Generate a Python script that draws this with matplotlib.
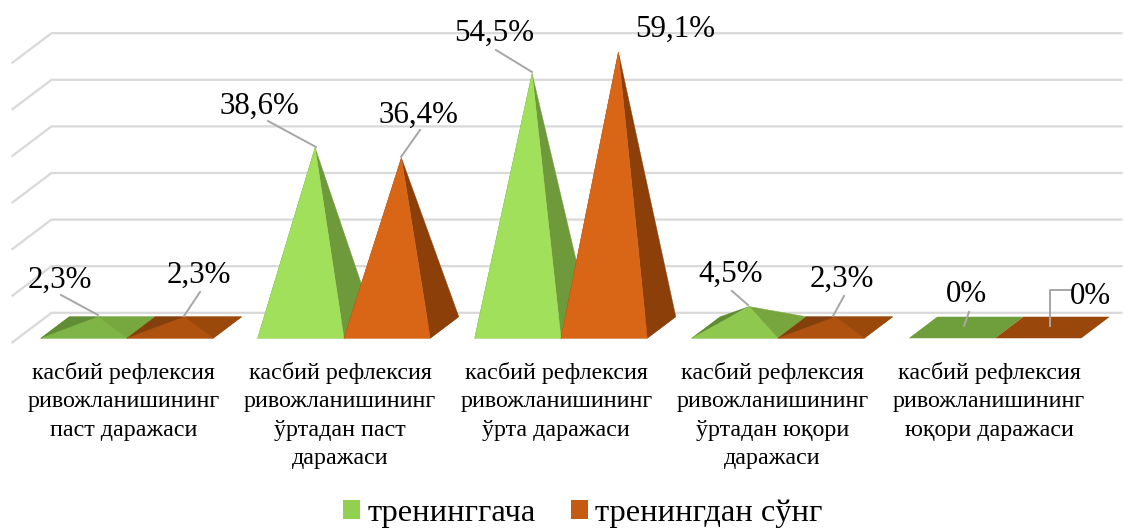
import matplotlib
matplotlib.use("Agg")
import matplotlib.pyplot as plt
from matplotlib.patches import Polygon, Patch
from matplotlib.colors import to_rgb
import numpy as np

plt.rcParams['font.family'] = ['Liberation Serif', 'DejaVu Serif']

categories = [
    "касбий рефлексия\nривожланишининг\nпаст даражаси",
    "касбий рефлексия\nривожланишининг\nўртадан паст\nдаражаси",
    "касбий рефлексия\nривожланишининг\nўрта даражаси",
    "касбий рефлексия\nривожланишининг\nўртадан юқори\nдаражаси",
    "касбий рефлексия\nривожланишининг\nюқори даражаси",
]
before = [2.3, 38.6, 54.5, 4.5, 0]
after = [2.3, 36.4, 59.1, 2.3, 0]
before_labels = ["2,3%", "38,6%", "54,5%", "4,5%", "0%"]
after_labels = ["2,3%", "36,4%", "59,1%", "2,3%", "0%"]
series_names = ["тренинггача", "тренингдан сўнг"]
value_ticks = [0, 10, 20, 30, 40, 50, 60]

W, H = 1124, 529
CAT_PX = 217.0      # pixels per category
VAL_PX = 4.66       # pixels per percent
X0_PX = 141.25      # pixel of category 0 centre
Y0_PX = 327.5       # pixel of value 0
BAR = 86.3 / CAT_PX
DX, DY = 14.25 / CAT_PX, 10.75 / VAL_PX     # half depth of a pyramid
WX, WY = 19.5 / CAT_PX, 14.7 / VAL_PX       # half depth of the floor

PAL = {
    0: dict(floor="#6F9E3C", front="#A0E05A", right="#6F9A3C", left="#5F8C34", low_right="#78A83F", legend="#92D050"),
    1: dict(floor="#9A470B", front="#D96516", right="#8C3F09", left="#84400C", low_right="#9C4A0A", legend="#C55A11"),
}


def mix(a, b, t):
    a, b = np.array(to_rgb(a)), np.array(to_rgb(b))
    return tuple(a + (b - a) * t)


fig = plt.figure(figsize=(W / 100, H / 100), dpi=100)
ax = fig.add_axes([0, 0, 1, 1])
ax.set_xlim((0 - X0_PX) / CAT_PX, (W - X0_PX) / CAT_PX)
ax.set_ylim((Y0_PX - H) / VAL_PX, Y0_PX / VAL_PX)
ax.axis("off")

# pixel overlay for text placement
pix = fig.add_axes([0, 0, 1, 1], facecolor="none")
pix.set_xlim(0, W)
pix.set_ylim(H, 0)
pix.axis("off")

# walls / gridlines
right_end = ax.get_xlim()[1] - 0.012
for v in value_ticks:
    ax.plot([-X0_PX / CAT_PX + 12.5 / CAT_PX, -X0_PX / CAT_PX + 12.5 / CAT_PX + 2 * WX, right_end],
            [v - WY, v + WY, v + WY], color="#D9D9D9", lw=1.6, zorder=1, solid_joinstyle="miter")


def pyramid(i, s, v):
    p = PAL[s]
    x0 = i + (-BAR if s == 0 else 0)
    x1 = x0 + BAR
    FL, FR = (x0 - DX, -DY), (x1 - DX, -DY)
    BL, BR = (x0 + DX, DY), (x1 + DX, DY)
    A = ((x0 + x1) / 2, v)
    t = min(1.0, v / 7.0)
    z = 2 + i * 2 + s
    ax.add_patch(Polygon([FL, FR, BR, BL], color=p["floor"], lw=0, zorder=z))
    if v > 0:
        left = mix(p["floor"], p["left"], 1)
        right = mix(p["low_right"], p["right"], min(1, v / 30))
        front = mix(p["floor"], p["front"], t)
        ax.add_patch(Polygon([FL, BL, A], color=left, lw=0.3, zorder=z))
        ax.add_patch(Polygon([FR, BR, A], color=right, lw=0.3, zorder=z))
        ax.add_patch(Polygon([FL, FR, A], color=front, lw=0.3, zorder=z))


for i, (a, b) in enumerate(zip(before, after)):
    pyramid(i, 0, a)
    pyramid(i, 1, b)

# data labels (centre px) and leader paths (px)
label_pos = [
    [(60, 280), (199, 275)],
    [(259, 106), (418, 115)],
    [(494, 33), (675, 29)],
    [(731, 274), (842, 279)],
    [(966, 295), (1090, 296)],
]
leaders = [
    [[(61, 295), (98, 315)], [(200, 292), (184, 316)]],
    [[(268, 121), (316, 147)], [(420, 130), (401, 157)]],
    [[(496, 50), (532, 72)], None],
    [[(732, 291), (748, 305)], [(844, 296), (833, 316)]],
    [[(969, 312), (964, 326)], [(1072, 290), (1050, 290), (1050, 326)]],
]
for i in range(5):
    for s, lab in enumerate((before_labels[i], after_labels[i])):
        lx, ly = label_pos[i][s]
        pix.text(lx, ly, lab, fontsize=22.3, ha="center", va="center", color="black")
        path = leaders[i][s]
        if path:
            xs, ys = zip(*path)
            pix.plot(xs, ys, color="#A6A6A6", lw=1.4)
    pix.text(X0_PX - 17.5 + i * 216.3, 362, categories[i], fontsize=17.3, ha="center", va="top",
             linespacing=1.46, color="black")

handles = [Patch(facecolor=PAL[0]["legend"], edgecolor="none", label=series_names[0]),
           Patch(facecolor=PAL[1]["legend"], edgecolor="none", label=series_names[1])]
fig.legend(handles=handles, loc="lower center", bbox_to_anchor=(583 / W, 0.001), ncol=2, frameon=False,
           fontsize=23.4, handlelength=0.52, handleheight=0.52, handletextpad=0.215, columnspacing=1.1,
           borderpad=0, borderaxespad=0)

fig.savefig("out.png", dpi=100)
